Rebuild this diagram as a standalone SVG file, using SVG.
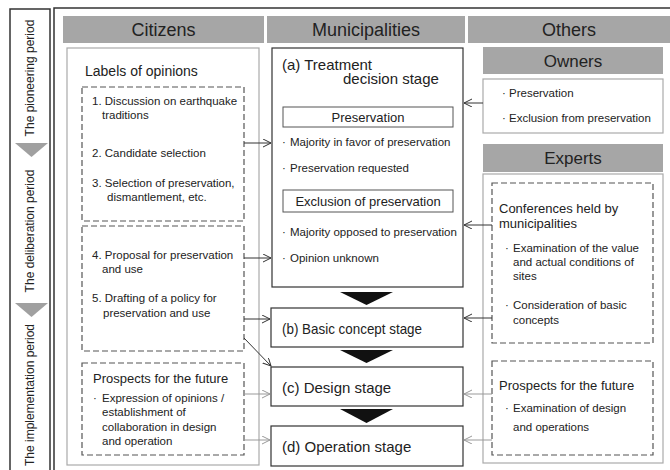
<svg xmlns="http://www.w3.org/2000/svg" width="670" height="470" viewBox="0 0 670 470">
<defs>
<style>
text{font-family:"Liberation Sans",Arial,sans-serif;fill:#222}
.hdr{fill:#a6a6a6}
.hdrt{font-size:18px;text-anchor:middle}
.sub{font-size:17px;text-anchor:middle}
.panel{fill:#fff;stroke:#aaa;stroke-width:1.2}
.dash{fill:none;stroke:#555;stroke-width:1.2;stroke-dasharray:6,3}
.stage{fill:#fff;stroke:#333;stroke-width:1.2}
.sm{font-size:11.5px}
.md{font-size:13px}
.lg{font-size:15px}
.per{font-size:12px;text-anchor:middle}
.c{stroke:#333;stroke-width:1;fill:none}
.cg{stroke:#999;stroke-width:1;fill:none}
</style>
<marker id="ad" markerWidth="10" markerHeight="10" refX="8" refY="4" orient="auto" markerUnits="userSpaceOnUse"><path d="M0,0 L8,4 L0,8" fill="none" stroke="#333" stroke-width="1"/></marker>
<marker id="ag" markerWidth="10" markerHeight="10" refX="8" refY="4" orient="auto" markerUnits="userSpaceOnUse"><path d="M0,0 L8,4 L0,8" fill="none" stroke="#999" stroke-width="1"/></marker>
</defs>
<rect width="670" height="470" fill="#fff"/>

<g id="periods">
<rect x="10" y="9" width="40" height="470" fill="#fff" stroke="#333" stroke-width="1.5"/>
<polygon points="15,143 48,143 31.5,157" fill="#a0a0a0"/>
<polygon points="15,303 48,303 31.5,317" fill="#a0a0a0"/>
<text class="per" transform="translate(34,78) rotate(-90)">The pioneering period</text>
<text class="per" transform="translate(34,231) rotate(-90)">The deliberation period</text>
<text class="per" transform="translate(34,395) rotate(-90)">The implementation period</text>
</g>

<rect x="54" y="8" width="620" height="470" fill="none" stroke="#333" stroke-width="1.5"/>

<g id="headers">
<rect class="hdr" x="63" y="16" width="201" height="27"/>
<text class="hdrt" x="163.5" y="36">Citizens</text>
<rect class="hdr" x="267" y="16" width="198" height="27"/>
<text class="hdrt" x="366" y="36">Municipalities</text>
<rect class="hdr" x="468" y="16" width="202" height="27"/>
<text class="hdrt" x="569" y="36">Others</text>
</g>

<g id="citizens">
<rect class="panel" x="67" y="48" width="192" height="417"/>
<text class="md" x="85" y="76" style="font-size:14px">Labels of opinions</text>
<g id="cit-box1">
<rect class="dash" x="82" y="87" width="162" height="134"/>
<text class="sm" x="92" y="105">1. Discussion on earthquake</text>
<text class="sm" x="102" y="119">traditions</text>
<text class="sm" x="92" y="157">2. Candidate selection</text>
<text class="sm" x="92" y="187">3. Selection of preservation,</text>
<text class="sm" x="107" y="201">dismantlement, etc.</text>
</g>
<g id="cit-box2">
<rect class="dash" x="82" y="226" width="162" height="125"/>
<text class="sm" x="92" y="259">4. Proposal for preservation</text>
<text class="sm" x="102" y="273">and use</text>
<text class="sm" x="92" y="302">5. Drafting of a policy for</text>
<text class="sm" x="103" y="317">preservation and use</text>
</g>
<g id="cit-box3">
<rect class="dash" x="82" y="363" width="162" height="92"/>
<text class="md" x="93" y="383">Prospects for the future</text>
<text class="sm" x="93" y="402">·</text>
<text class="sm" x="102" y="402">Expression of opinions /</text>
<text class="sm" x="102" y="416">establishment of</text>
<text class="sm" x="102" y="431">collaboration in design</text>
<text class="sm" x="102" y="445">and operation</text>
</g>
</g>

<g id="stage-a">
<rect class="stage" x="272" y="48" width="191" height="239"/>
<text class="lg" x="282" y="70">(a) Treatment</text>
<text class="lg" x="343" y="84">decision stage</text>
<rect x="283" y="107" width="170" height="20" fill="#fff" stroke="#555" stroke-width="1"/>
<text class="md" x="368" y="122" text-anchor="middle">Preservation</text>
<text class="sm" x="282" y="146">·</text>
<text class="sm" x="290" y="146">Majority in favor of preservation</text>
<text class="sm" x="282" y="172">·</text>
<text class="sm" x="290" y="172">Preservation requested</text>
<rect x="283" y="190" width="170" height="22" fill="#fff" stroke="#555" stroke-width="1"/>
<text class="md" x="368" y="206" text-anchor="middle">Exclusion of preservation</text>
<text class="sm" x="282" y="236">·</text>
<text class="sm" x="290" y="236">Majority opposed to preservation</text>
<text class="sm" x="282" y="262">·</text>
<text class="sm" x="290" y="262">Opinion unknown</text>
</g>

<g id="stage-b">
<rect class="stage" x="271" y="308" width="192" height="39"/>
<text class="lg" x="282" y="334" textLength="140" lengthAdjust="spacingAndGlyphs">(b) Basic concept stage</text>
</g>
<g id="stage-c">
<rect class="stage" x="271" y="367" width="192" height="39"/>
<text class="lg" x="282" y="393">(c) Design stage</text>
</g>
<g id="stage-d">
<rect class="stage" x="271" y="426" width="192" height="40"/>
<text class="lg" x="282" y="452">(d) Operation stage</text>
</g>

<g id="stage-arrows">
<polygon points="340,292 393,292 366.5,305" fill="#111"/>
<polygon points="340,350 393,350 366.5,363" fill="#111"/>
<polygon points="340,409 393,409 366.5,423" fill="#111"/>
</g>

<g id="owners">
<rect class="hdr" x="483" y="47" width="180" height="27"/>
<text class="sub" x="573" y="67">Owners</text>
<rect class="panel" x="483" y="79" width="180" height="54"/>
<text class="sm" x="502" y="97">·</text>
<text class="sm" x="509" y="97">Preservation</text>
<text class="sm" x="502" y="122">·</text>
<text class="sm" x="509" y="122">Exclusion from preservation</text>
</g>

<g id="experts">
<rect class="hdr" x="483" y="144" width="180" height="28"/>
<text class="sub" x="573" y="164">Experts</text>
<rect class="panel" x="483" y="174" width="180" height="289"/>
<g id="exp-box1">
<rect class="dash" x="492" y="183" width="161" height="160"/>
<text class="md" x="499" y="213">Conferences held by</text>
<text class="md" x="499" y="228">municipalities</text>
<text class="sm" x="505" y="252">·</text>
<text class="sm" x="513" y="252">Examination of the value</text>
<text class="sm" x="513" y="266">and actual conditions of</text>
<text class="sm" x="513" y="280">sites</text>
<text class="sm" x="505" y="309">·</text>
<text class="sm" x="513" y="309">Consideration of basic</text>
<text class="sm" x="513" y="324">concepts</text>
</g>
<g id="exp-box2">
<rect class="dash" x="492" y="361" width="161" height="94"/>
<text class="md" x="499" y="390">Prospects for the future</text>
<text class="sm" x="505" y="412">·</text>
<text class="sm" x="513" y="412">Examination of design</text>
<text class="sm" x="513" y="431">and operations</text>
</g>
</g>

<g id="connectors">
<path class="c" d="M244,143 H271" marker-end="url(#ad)"/>
<path class="c" d="M244,258 H271" marker-end="url(#ad)"/>
<path class="c" d="M244,319 H270" marker-end="url(#ad)"/>
<path class="c" d="M244,338 L271,366" marker-end="url(#ad)"/>
<path class="cg" d="M244,394 H270" marker-end="url(#ag)"/>
<path class="cg" d="M244,440 H270" marker-end="url(#ag)"/>
<path class="c" d="M483,103 H464" marker-end="url(#ad)"/>
<path class="c" d="M492,225 H464" marker-end="url(#ad)"/>
<path class="c" d="M492,318 H464" marker-end="url(#ad)"/>
<path class="cg" d="M492,394 H464" marker-end="url(#ag)"/>
<path class="cg" d="M492,440 H464" marker-end="url(#ag)"/>
</g>
</svg>
